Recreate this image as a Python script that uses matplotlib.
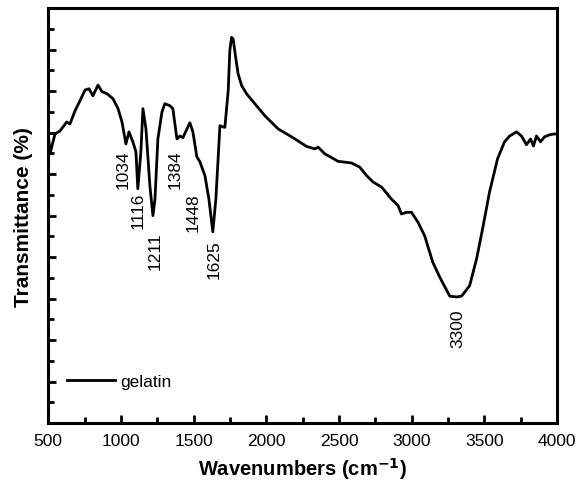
import numpy as np
import matplotlib
matplotlib.use("Agg")
import matplotlib.pyplot as plt
from matplotlib.ticker import MultipleLocator

plt.rcParams['font.family'] = ['Liberation Sans', 'DejaVu Sans']

# espectro FTIR de la gelatina
wavenumber = [500, 512, 546, 580, 627, 649, 684, 718, 753, 780, 807, 842, 869, 904,
              945, 980, 1007, 1034, 1055, 1082, 1103, 1116, 1137, 1151, 1172, 1199,
              1220, 1234, 1254, 1282, 1302, 1337, 1357, 1385, 1406, 1426, 1454, 1474,
              1495, 1522, 1543, 1578, 1605, 1632, 1653, 1681, 1701, 1715, 1738, 1749,
              1761, 1772, 1789, 1806, 1830, 1864, 1921, 1990, 2082, 2174, 2277, 2334,
              2357, 2403, 2494, 2586, 2643, 2689, 2735, 2793, 2861, 2907, 2930, 2964,
              2999, 3044, 3090, 3145, 3193, 3262, 3310, 3344, 3399, 3447, 3488, 3536,
              3591, 3639, 3674, 3722, 3756, 3790, 3818, 3838, 3859, 3887, 3914, 3949,
              3983, 4000]
transmittance = [6.97, 6.49, 6.97, 7.04, 7.26, 7.21, 7.53, 7.77, 8.03, 8.06, 7.89, 8.15,
                 7.99, 7.94, 7.82, 7.58, 7.26, 6.73, 7.02, 6.78, 6.54, 5.65, 6.54, 7.58,
                 7.09, 5.72, 5.00, 5.40, 6.85, 7.50, 7.70, 7.65, 7.58, 6.85, 6.92, 6.88,
                 7.09, 7.24, 7.02, 6.42, 6.30, 5.96, 5.40, 4.61, 5.40, 7.17, 7.14, 7.13,
                 8.02, 8.98, 9.30, 9.26, 8.82, 8.42, 8.14, 7.94, 7.70, 7.41, 7.09, 6.90,
                 6.67, 6.61, 6.65, 6.49, 6.31, 6.27, 6.17, 5.97, 5.81, 5.69, 5.40, 5.24,
                 5.04, 5.08, 5.08, 4.84, 4.51, 3.88, 3.52, 3.06, 3.04, 3.06, 3.31, 3.96,
                 4.68, 5.57, 6.37, 6.78, 6.92, 7.02, 6.92, 6.71, 6.85, 6.68, 6.92, 6.78,
                 6.90, 6.95, 6.97, 6.97]

# etiquetas de los picos
peak_labels = ['1034', '1116', '1211', '1384', '1448', '1625', '3300']
peak_x = [1014, 1117, 1235, 1371, 1495, 1639, 3317]
peak_y = [6.61, 5.57, 4.63, 6.61, 5.57, 4.44, 2.75]

fig = plt.figure(figsize=(5.77, 4.89), dpi=100)
ax = fig.add_axes([0.0837, 0.1329, 0.8816, 0.8481])

ax.plot(wavenumber, transmittance, color='black', linewidth=2.0, label='gelatin')

for lab, px, py in zip(peak_labels, peak_x, peak_y):
    ax.text(px, py, lab, rotation=90, ha='center', va='top', fontsize=12.5)

ax.set_xlim(500, 4000)
ax.set_ylim(0, 10)
ax.xaxis.set_major_locator(MultipleLocator(500))
ax.xaxis.set_minor_locator(MultipleLocator(250))
ax.yaxis.set_major_locator(MultipleLocator(1))
ax.yaxis.set_minor_locator(MultipleLocator(0.5))
ax.tick_params(which='both', direction='in', top=False, right=False, labelleft=False,
               width=2.0, labelsize=12.5)
ax.tick_params(which='major', length=6)
ax.tick_params(which='minor', length=4)
ax.tick_params(axis='x', pad=7)
for s in ax.spines.values():
    s.set_linewidth(2.2)

ax.set_xlabel('Wavenumbers (cm$^{\\mathbf{-1}}$)', fontsize=14.5, fontweight='bold', labelpad=5)
ax.set_ylabel('Transmittance (%)', fontsize=15, fontweight='bold', labelpad=11)

ax.legend(loc='center left', bbox_to_anchor=(0.0368, 0.101), frameon=False,
          fontsize=12.5, handlelength=2.76, handletextpad=0.3, borderpad=0,
          borderaxespad=0)

fig.savefig('out.png', dpi=100)
